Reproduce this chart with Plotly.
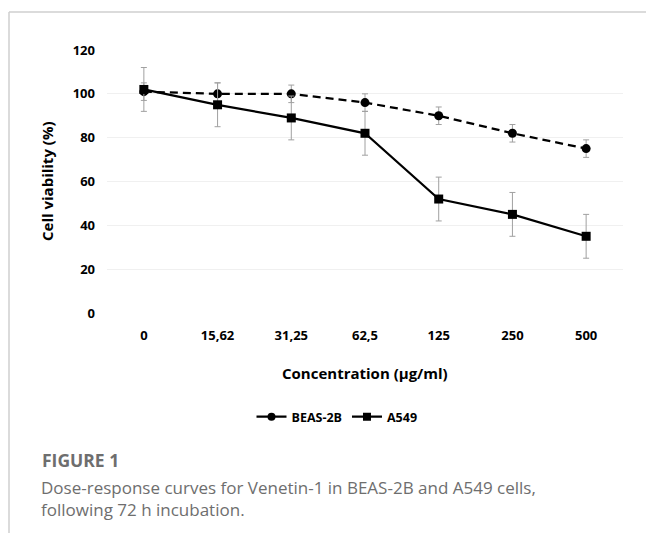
import plotly.graph_objects as go

concentrations = ["0", "15,62", "31,25", "62,5", "125", "250", "500"]
beas_values = [101, 100, 100, 96, 90, 82, 75]
beas_errors = [4, 5, 4, 4, 4, 4, 4]
a549_values = [102, 95, 89, 82, 52, 45, 35]
a549_errors = [10, 10, 10, 10, 10, 10, 10]
y_ticks = [0, 20, 40, 60, 80, 100, 120]

W, H = 646, 533
ML, MR, MT, MB = 107, 23, 50, 220
PW, PH = W - ML - MR, H - MT - MB

def px_x(px):
    return (px - ML) / PW

def px_y(py):
    return (H - MB - py) / PH

fig = go.Figure()
fig.add_trace(go.Scatter(
    x=concentrations, y=beas_values, name="BEAS-2B", mode="lines+markers",
    line=dict(color="black", width=2.25, dash="8px,5px"),
    marker=dict(symbol="circle", size=9, color="black"),
    error_y=dict(type="data", array=beas_errors, visible=True,
                 color="#a0a0a0", thickness=1, width=3),
    showlegend=False,
))
fig.add_trace(go.Scatter(
    x=concentrations, y=a549_values, name="A549", mode="lines+markers",
    line=dict(color="black", width=2.25),
    marker=dict(symbol="square", size=9, color="black"),
    error_y=dict(type="data", array=a549_errors, visible=True,
                 color="#a0a0a0", thickness=1, width=3),
    showlegend=False,
))
# legend entries (solid short line with marker, as in the reference legend)
fig.add_trace(go.Scatter(
    x=[None], y=[None], name="BEAS-2B", mode="lines+markers",
    line=dict(color="black", width=2.25),
    marker=dict(symbol="circle", size=8, color="black"),
))
fig.add_trace(go.Scatter(
    x=[None], y=[None], name="A549", mode="lines+markers",
    line=dict(color="black", width=2.25),
    marker=dict(symbol="square", size=8, color="black"),
))

bold_font = "Open Sans"
fig.update_layout(
    width=W, height=H,
    margin=dict(l=ML, r=MR, t=MT, b=MB),
    paper_bgcolor="white", plot_bgcolor="white",
    showlegend=True,
    legend=dict(orientation="h", x=px_x(337), xanchor="center", y=px_y(417), yanchor="middle",
                font=dict(family=bold_font, size=12.5, color="black", weight="bold"),
                itemwidth=30, bgcolor="rgba(0,0,0,0)"),
    xaxis=dict(type="category", range=[-0.5, 6.5], showgrid=False, zeroline=False,
               showline=False, ticks="", ticklabelstandoff=13,
               tickfont=dict(family=bold_font, size=13, color="black", weight="bold")),
    yaxis=dict(range=[0, 120], tickvals=y_ticks, showgrid=True, gridcolor="#f0f0f0",
               gridwidth=1, zeroline=False, showline=False, ticks="", ticklabelstandoff=11,
               tickfont=dict(family=bold_font, size=13, color="black", weight="bold")),
)

fig.add_annotation(text="Concentration (µg/ml)", xref="paper", yref="paper",
                   x=0.5, y=px_y(373), xanchor="center", yanchor="middle", showarrow=False,
                   font=dict(family=bold_font, size=15, color="black", weight="bold"))
fig.add_annotation(text="Cell viability (%)", xref="paper", yref="paper",
                   x=px_x(47), y=px_y(181), xanchor="center", yanchor="middle", showarrow=False,
                   textangle=-90,
                   font=dict(family=bold_font, size=15, color="black", weight="bold"))

fig.add_annotation(text="FIGURE 1", xref="paper", yref="paper",
                   x=px_x(40), y=px_y(460), xanchor="left", yanchor="middle", showarrow=False,
                   font=dict(family="Open Sans", size=17.5, color="#6e6e6e", weight="bold"))
fig.add_annotation(text="Dose-response curves for Venetin-1 in BEAS-2B and A549 cells,",
                   xref="paper", yref="paper",
                   x=px_x(39), y=px_y(487), xanchor="left", yanchor="middle", showarrow=False,
                   font=dict(family="Open Sans", size=17, color="#6e6e6e"))
fig.add_annotation(text="following 72 h incubation.",
                   xref="paper", yref="paper",
                   x=px_x(39), y=px_y(510), xanchor="left", yanchor="middle", showarrow=False,
                   font=dict(family="Open Sans", size=17, color="#6e6e6e"))

fig.add_shape(type="line", xref="paper", yref="paper",
              x0=px_x(9), x1=px_x(646), y0=px_y(12), y1=px_y(12),
              line=dict(color="#cfcfcf", width=1.5))
fig.add_shape(type="line", xref="paper", yref="paper",
              x0=px_x(9), x1=px_x(9), y0=px_y(12), y1=px_y(533),
              line=dict(color="#cfcfcf", width=1.5))

fig.write_html("out.html", config={"displayModeBar": False},
               post_script="document.body.style.margin='0px';document.body.style.overflow='hidden';")
